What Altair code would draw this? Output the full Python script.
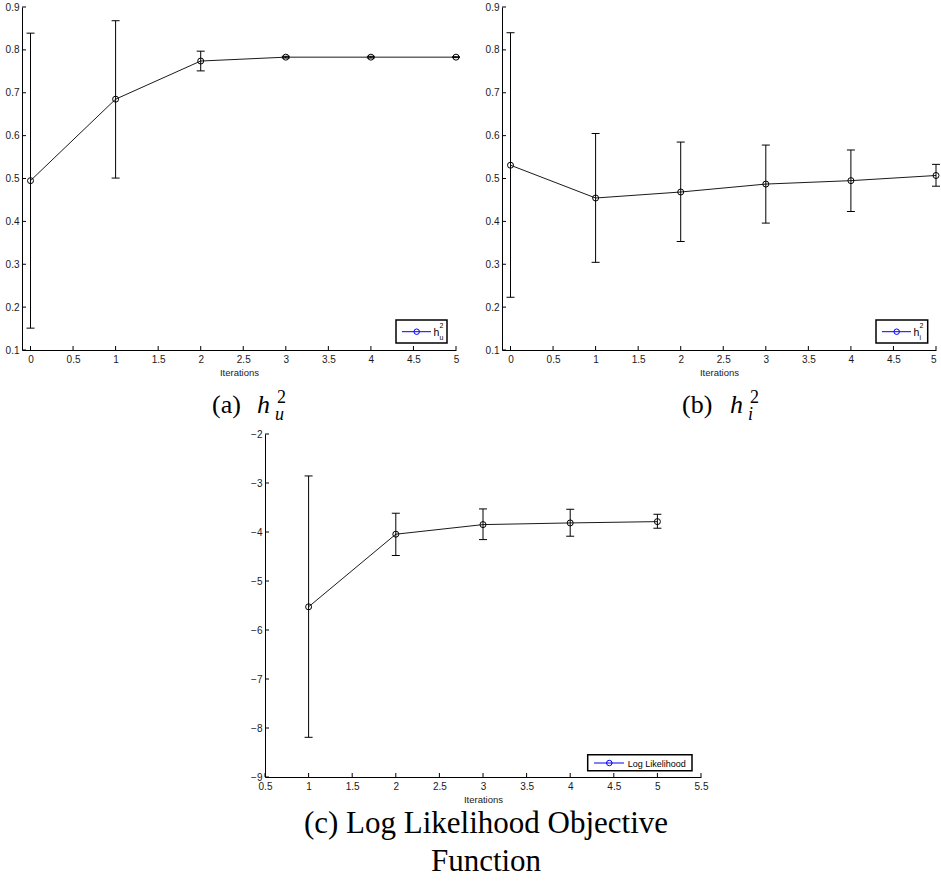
import altair as alt
import pandas as pd

# ---------------- data ----------------
iter_ab = [0, 1, 2, 3, 4, 5]
hu_mean = [0.495, 0.685, 0.774, 0.783, 0.783, 0.783]
hu_low = [0.151, 0.501, 0.751, 0.781, 0.781, 0.782]
hu_high = [0.839, 0.868, 0.797, 0.785, 0.785, 0.784]

hi_mean = [0.531, 0.4545, 0.4685, 0.487, 0.495, 0.507]
hi_low = [0.223, 0.3045, 0.353, 0.396, 0.423, 0.482]
hi_high = [0.840, 0.605, 0.585, 0.578, 0.5665, 0.533]

iter_c = [1, 2, 3, 4, 5]
ll_mean = [-5.527, -4.045, -3.849, -3.815, -3.788]
ll_low = [-8.19, -4.48, -4.155, -4.086, -3.923]
ll_high = [-2.856, -3.617, -3.529, -3.536, -3.638]

xticks_ab = [0, 0.5, 1, 1.5, 2, 2.5, 3, 3.5, 4, 4.5, 5]
yticks_ab = [0.1, 0.2, 0.3, 0.4, 0.5, 0.6, 0.7, 0.8, 0.9]
xticks_c = [0.5, 1, 1.5, 2, 2.5, 3, 3.5, 4, 4.5, 5, 5.5]
yticks_c = [-9, -8, -7, -6, -5, -4, -3, -2]

SANS = "Liberation Sans"
SERIF = "Liberation Serif"
ONE = pd.DataFrame({"k": [0]})
BLUE = "#0000ff"


def txt(s, x, y, size, font=SERIF, style="normal", align="left", color="black"):
    return alt.Chart(ONE).mark_text(
        text=s, font=font, fontSize=size, fontStyle=style, align=align,
        baseline="alphabetic", color=color
    ).encode(x=alt.value(x), y=alt.value(y))


def legend_box(x0, x1, y0, y1, lx0, lx1, ly, cx):
    box = alt.Chart(ONE).mark_rect(fill="white", stroke="black", strokeWidth=1.5).encode(
        x=alt.value(x0), x2=alt.value(x1), y=alt.value(y0), y2=alt.value(y1))
    ln = alt.Chart(ONE).mark_rule(color=BLUE, strokeWidth=1).encode(
        x=alt.value(lx0), x2=alt.value(lx1), y=alt.value(ly))
    pt = alt.Chart(ONE).mark_point(shape="circle", filled=False, color=BLUE, size=30,
                                   strokeWidth=1, opacity=1).encode(
        x=alt.value(cx), y=alt.value(ly))
    return [box, ln, pt]


def panel(xv, mean, lo, hi, xdom, ydom, xticks, yticks, W, H, extra, flush=False):
    df = pd.DataFrame({"it": xv, "m": mean, "lo": lo, "hi": hi})
    xs = alt.Scale(domain=xdom, nice=False, zero=False)
    ys = alt.Scale(domain=ydom, nice=False, zero=False)
    xaxis = alt.Axis(values=xticks, format="~g", title="Iterations", grid=False,
                     ticks=False, labelPadding=4, titlePadding=3, labelFlush=flush)
    yaxis = alt.Axis(values=yticks, format="~g", title="", grid=False,
                     ticks=False, labelPadding=3)
    X = alt.X("it:Q", scale=xs, axis=xaxis)
    Ym = alt.Y("m:Q", scale=ys, axis=yaxis)
    base = alt.Chart(df)
    line = base.mark_line(color="black", strokeWidth=0.9).encode(x=X, y=Ym)
    err = base.mark_rule(color="black", strokeWidth=1).encode(
        x=X, y=alt.Y("lo:Q", scale=ys, axis=yaxis), y2="hi:Q")
    cap_lo = base.mark_tick(orient="horizontal", size=8, thickness=1, color="black",
                            opacity=1).encode(x=X, y=alt.Y("lo:Q", scale=ys, axis=yaxis))
    cap_hi = base.mark_tick(orient="horizontal", size=8, thickness=1, color="black",
                            opacity=1).encode(x=X, y=alt.Y("hi:Q", scale=ys, axis=yaxis))
    pts = base.mark_point(shape="circle", filled=False, color="black", size=36,
                          strokeWidth=1, opacity=1).encode(x=X, y=Ym)
    # inward-pointing tick marks (MATLAB style)
    xt = alt.Chart(pd.DataFrame({"it": xticks})).mark_rule(color="black", strokeWidth=1).encode(
        x=X, y=alt.value(H), y2=alt.value(H - 4))
    yt = alt.Chart(pd.DataFrame({"m": yticks})).mark_rule(color="black", strokeWidth=1).encode(
        y=Ym, x=alt.value(0), x2=alt.value(4))
    return alt.layer(line, err, cap_lo, cap_hi, pts, xt, yt, *extra).properties(width=W, height=H)


# ---------- panel (a) ----------
extra_a = legend_box(374, 425, 313, 336, 380, 409, 324.7, 394.7) + [
    txt("h", 411.5, 328.5, 10.5, font=SANS),
    txt("2", 417.5, 320.5, 7, font=SANS),
    txt("u", 417.5, 333, 7, font=SANS),
    txt("(a)", 190, 406, 26),
    txt("h", 235, 406, 26, style="italic"),
    txt("2", 255, 396, 18),
    txt("u", 253, 413, 18, style="italic"),
]
pa = panel(iter_ab, hu_mean, hu_low, hu_high, [-0.1, 5], [0.1, 0.9],
           xticks_ab, yticks_ab, 434, 343, extra_a)

# ---------- panel (b) ----------
extra_b = legend_box(374, 425.7, 313, 336, 380, 409, 324.7, 394.7) + [
    txt("h", 411.5, 328.5, 10.5, font=SANS),
    txt("2", 417.5, 320.5, 7, font=SANS),
    txt("i", 417.5, 333, 7, font=SANS),
    txt("(b)", 180, 406, 26),
    txt("h", 228, 406, 26, style="italic"),
    txt("2", 248, 396, 18),
    txt("i", 246, 413, 18, style="italic"),
]
pb = panel(iter_ab, hi_mean, hi_low, hi_high, [-0.1, 5], [0.1, 0.9],
           xticks_ab, yticks_ab, 434, 343, extra_b, flush=True)

# ---------- panel (c) ----------
extra_c = legend_box(322.7, 427, 320.7, 336.7, 329, 359, 329, 344.3) + [
    txt("Log Likelihood", 362.7, 332.5, 9, font=SANS),
    txt("(c) Log Likelihood Objective", 221, 399, 31, align="center"),
    txt("Function", 221, 437, 31, align="center"),
]
pc = panel(iter_c, ll_mean, ll_low, ll_high, [0.5, 5.5], [-9, -2],
           xticks_c, yticks_c, 436, 343, extra_c)

# blank spacer that pushes panel (c) to the right
spacer = alt.Chart(ONE).mark_rule(color="white", strokeWidth=1).encode(
    x=alt.value(0), x2=alt.value(1), y=alt.value(1)
).properties(width=243, height=343)

top = alt.hconcat(pa, pb, spacing=46, bounds="flush")
bottom = alt.hconcat(spacer, pc, spacing=0, bounds="flush")

chart = alt.vconcat(top, bottom, spacing=5).properties(
    padding={"left": 5, "top": 2, "right": 0, "bottom": 0},
    background="white",
).configure_view(stroke=None).configure_axis(
    labelFont=SANS, labelFontSize=10, labelColor="#1a1a1a",
    titleFont=SANS, titleFontSize=9.5, titleFontWeight="normal", titleColor="#1a1a1a",
    domainColor="black", domainWidth=1,
)

chart.save("out.html", embed_options={"renderer": "svg", "actions": False})
